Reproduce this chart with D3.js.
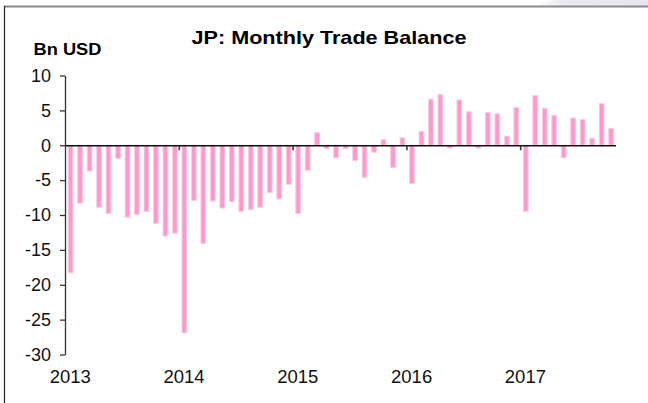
<!DOCTYPE html>
<html>
<head>
<meta charset="utf-8">
<script src="https://cdn.jsdelivr.net/npm/d3@7"></script>
<style>
  body { margin: 0; background: #fff; }
  svg { display: block; font-family: "Liberation Sans", Arial, sans-serif; }
</style>
</head>
<body>
<svg id="chart" width="648" height="403"></svg>
<script>
// monthly trade balance, Bn USD, Jan 2013 .. Oct 2017
const startMonth = new Date(2013, 0, 1);
const endMonth = new Date(2017, 10, 1);
const values2013 = [-18.3, -8.3, -3.7, -8.9, -9.8, -1.9, -10.3, -9.9, -9.5, -11.2, -13.0, -12.6];
const values2014 = [-26.9, -7.9, -14.1, -8.0, -9.0, -8.1, -9.5, -9.2, -8.9, -6.8, -7.7, -5.6];
const values2015 = [-9.8, -3.6, 1.8, -0.5, -1.8, -0.5, -2.2, -4.6, -1.0, 0.8, -3.2, 1.1];
const values2016 = [-5.5, 2.0, 6.6, 7.3, -0.4, 6.5, 4.8, -0.4, 4.7, 4.5, 1.3, 5.4];
const values2017 = [-9.5, 7.1, 5.3, 4.3, -1.8, 3.9, 3.7, 1.0, 6.0, 2.4];
const yTicks = [10, 5, 0, -5, -10, -15, -20, -25, -30];
const yearLabels = ['2013', '2014', '2015', '2016', '2017'];

const months = d3.timeMonth.range(startMonth, endMonth);
const values = [].concat(values2013, values2014, values2015, values2016, values2017);
const data = months.map((m, i) => ({ month: m, value: values[i] }));

const svg = d3.select('#chart');

// slide frame bits
let grad = svg.append('defs').append('linearGradient')
  .attr('id', 'corner').attr('x1', 0).attr('x2', 1);
grad.append('stop').attr('offset', 0).attr('stop-color', '#ffffff');
grad.append('stop').attr('offset', 0.25).attr('stop-color', '#e9e9f3');
grad.append('stop').attr('offset', 1).attr('stop-color', '#e6e6f2');
svg.append('path')
  .attr('d', 'M535,6 L552,0 L648,0 L648,6 Z')
  .attr('fill', 'url(#corner)');
svg.append('line')
  .attr('x1', 4).attr('x2', 648).attr('y1', 6.5).attr('y2', 6.5)
  .attr('stroke', '#8a8a8a').attr('stroke-width', 2);
svg.append('line')
  .attr('x1', 4.5).attr('x2', 4.5).attr('y1', 6).attr('y2', 403)
  .attr('stroke', '#222').attr('stroke-width', 1.2);

let x = d3.scaleBand()
  .domain(months)
  .range([65.5, 615.5])
  .paddingInner(0)
  .paddingOuter(0);
let y = d3.scaleLinear()
  .domain([-30, 10])
  .range([354.5, 75.5]);

let barW = x.bandwidth() * 0.5;

svg.append('g')
  .selectAll('rect')
  .data(data)
  .join('rect')
  .attr('x', (d) => x(d.month) + (x.bandwidth() - barW) / 2 + 0.3)
  .attr('width', barW)
  .attr('y', (d) => y(Math.max(0, d.value)))
  .attr('height', (d) => Math.abs(y(d.value) - y(0)))
  .attr('fill', '#ff99cc')
  .attr('stroke', '#ffcce6')
  .attr('stroke-width', 1);

// y axis
let yAxis = svg.append('g')
  .attr('transform', 'translate(65,0)')
  .call(d3.axisLeft(y).tickValues(yTicks).tickSize(5).tickSizeOuter(0).tickPadding(9).tickFormat((d) => String(d)));
yAxis.select('.domain').attr('stroke', '#333').attr('stroke-width', 1.3);
yAxis.selectAll('.tick line').attr('stroke', '#333').attr('stroke-width', 1.3);
yAxis.selectAll('.tick text')
  .attr('fill', '#111')
  .style('font-size', '18px')
  .style('font-family', '"Liberation Sans", Arial, sans-serif');

// zero line with year ticks
let yearStarts = months.filter((m) => m.getMonth() === 0);
let xAxis = svg.append('g')
  .attr('transform', `translate(0,${y(0)})`)
  .call(d3.axisBottom(x).tickValues(yearStarts.slice(1)).tickSize(5).tickSizeOuter(0).tickFormat(''));
xAxis.select('.domain').attr('stroke', '#111').attr('stroke-width', 1.6);
xAxis.selectAll('.tick').attr('transform', (d) => `translate(${x(d)},0)`);
xAxis.selectAll('.tick line').attr('stroke', '#333').attr('stroke-width', 1.6);

// year labels under January bars
svg.append('g')
  .selectAll('text')
  .data(yearStarts)
  .join('text')
  .attr('x', (d) => x(d) + x.bandwidth() / 2)
  .attr('y', 382.5)
  .attr('text-anchor', 'middle')
  .attr('fill', '#111')
  .style('font-size', '18.5px')
  .text((d, i) => yearLabels[i]);

svg.append('text')
  .attr('x', 329)
  .attr('y', 43.5)
  .attr('text-anchor', 'middle')
  .attr('font-weight', 'bold')
  .attr('textLength', 275)
  .attr('lengthAdjust', 'spacingAndGlyphs')
  .style('font-size', '19px')
  .text('JP: Monthly Trade Balance');

svg.append('text')
  .attr('x', 33.5)
  .attr('y', 55)
  .attr('font-weight', 'bold')
  .attr('textLength', 68)
  .attr('lengthAdjust', 'spacingAndGlyphs')
  .style('font-size', '17px')
  .text('Bn USD');
</script>
</body>
</html>
